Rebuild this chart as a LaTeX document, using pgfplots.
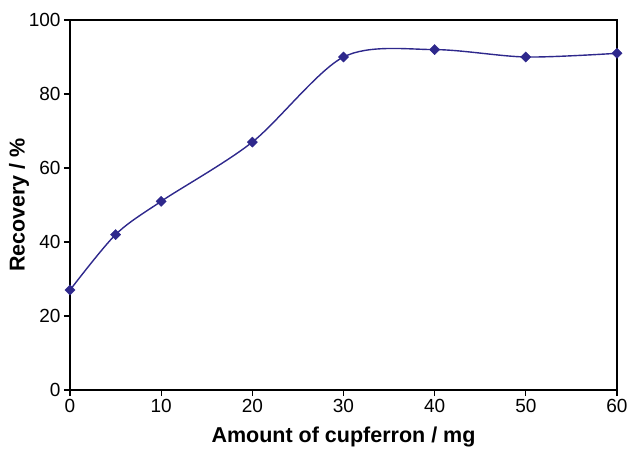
\documentclass[border=0pt]{standalone}
\usepackage{fontspec}
\setmainfont{Liberation Sans}
\usepackage{pgfplots}
\pgfplotsset{compat=1.18}
\definecolor{curve}{RGB}{46,40,140}
\begin{document}
\begin{tikzpicture}[x=1pt,y=1pt]
\useasboundingbox (-70,-60) rectangle (558,390);
\begin{axis}[
  at={(0,0)}, anchor=south west,
  width=547pt, height=370pt, scale only axis,
  xmin=0, xmax=60, ymin=0, ymax=100,
  xtick={0,10,...,60}, ytick={0,20,...,100},
  tick pos=left, tick align=outside,
  major tick length=6pt,
  axis line style={line width=1.5pt},
  tick style={line width=1.2pt, black},
  ticklabel style={font=\fontsize{19}{19}\selectfont},
  /pgf/number format/assume math mode=true,
  xlabel={Amount of cupferron / mg},
  ylabel={Recovery / \%},
  label style={font=\fontsize{21.5}{21.5}\selectfont\bfseries},
  xlabel style={at={(axis description cs:0.5,-0.143)}, anchor=base},
  ylabel style={at={(axis description cs:-0.0932,0.5)}, anchor=center},
  clip=false,
]
\addplot[curve, line width=1.4pt, smooth, mark=square*,
  mark size=3.6pt, mark options={fill=curve, draw=curve, line width=0.4pt, rotate=45}]
  coordinates {(0,27) (5,42) (10,51) (20,67) (30,90) (40,92) (50,90) (60,91)};
\end{axis}
\end{tikzpicture}
\end{document}
